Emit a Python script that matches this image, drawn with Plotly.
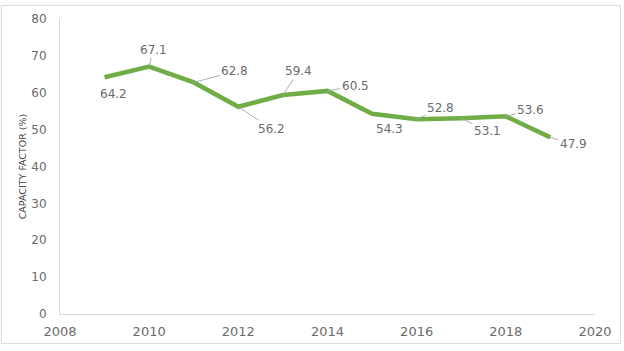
import plotly.graph_objects as go

years = [2009, 2010, 2011, 2012, 2013, 2014, 2015, 2016, 2017, 2018, 2019]
capacity_factor = [64.2, 67.1, 62.8, 56.2, 59.4, 60.5, 54.3, 52.8, 53.1, 53.6, 47.9]
# label offsets in pixels (dx, dy) and whether a leader line is drawn
label_offsets = [(9, 17, False), (4, -17, True), (41, -11, True), (33, 22, True),
                 (16, -24, True), (28, -5, True), (17, 15, False), (24, -11, True),
                 (26, 13, True), (25, -6, True), (23, 7, True)]

FONT = "DejaVu Sans"
GRAY = "#6b6b6b"

fig = go.Figure()
fig.add_trace(go.Scatter(x=years, y=capacity_factor, mode="lines",
                         line=dict(color="#70ad47", width=4.5), hoverinfo="skip"))

L, R, T, B = 60, 27, 15, 32
W, H = 624, 351
pw, ph = W - L - R, H - T - B

for x, v, (dx, dy, arrow) in zip(years, capacity_factor, label_offsets):
    txt = f"{v:.1f}"
    if arrow:
        fig.add_annotation(x=x, y=v, text=txt, showarrow=True, ax=dx, ay=dy,
                           arrowhead=0, arrowwidth=0.9, arrowcolor="#a6a6a6",
                           standoff=0, font=dict(family=FONT, size=12, color=GRAY))
    else:
        fig.add_annotation(x=x, y=v, text=txt, showarrow=False, xshift=dx, yshift=-dy,
                           font=dict(family=FONT, size=12, color=GRAY))

fig.add_shape(type="rect", xref="paper", yref="paper",
              x0=(1 - L) / pw, x1=(W - 1.5 - L) / pw,
              y0=(T + ph - (H - 1.5)) / ph, y1=(T + ph - 1) / ph,
              line=dict(color="#d9d9d9", width=1), layer="below")

fig.update_layout(
    width=W, height=H, margin=dict(l=L, r=R, t=T, b=B),
    paper_bgcolor="white", plot_bgcolor="white", showlegend=False,
    font=dict(family=FONT, color=GRAY, size=12),
    xaxis=dict(range=[2008, 2020], tickmode="linear", tick0=2008, dtick=2,
               showgrid=False, zeroline=False, showline=True, linecolor="#d9d9d9",
               linewidth=1, ticks="", ticklabelstandoff=5,
               tickfont=dict(family=FONT, size=13, color=GRAY)),
    yaxis=dict(range=[0, 80], tickmode="linear", tick0=0, dtick=10,
               showgrid=False, zeroline=False, showline=True, linecolor="#d9d9d9",
               linewidth=1, ticks="", ticklabelstandoff=10,
               tickfont=dict(family=FONT, size=12, color=GRAY),
               title=dict(text="CAPACITY FACTOR (%)", standoff=2,
                          font=dict(family=FONT, size=9.5, color="#404040"))),
)

fig.write_html("out.html")
